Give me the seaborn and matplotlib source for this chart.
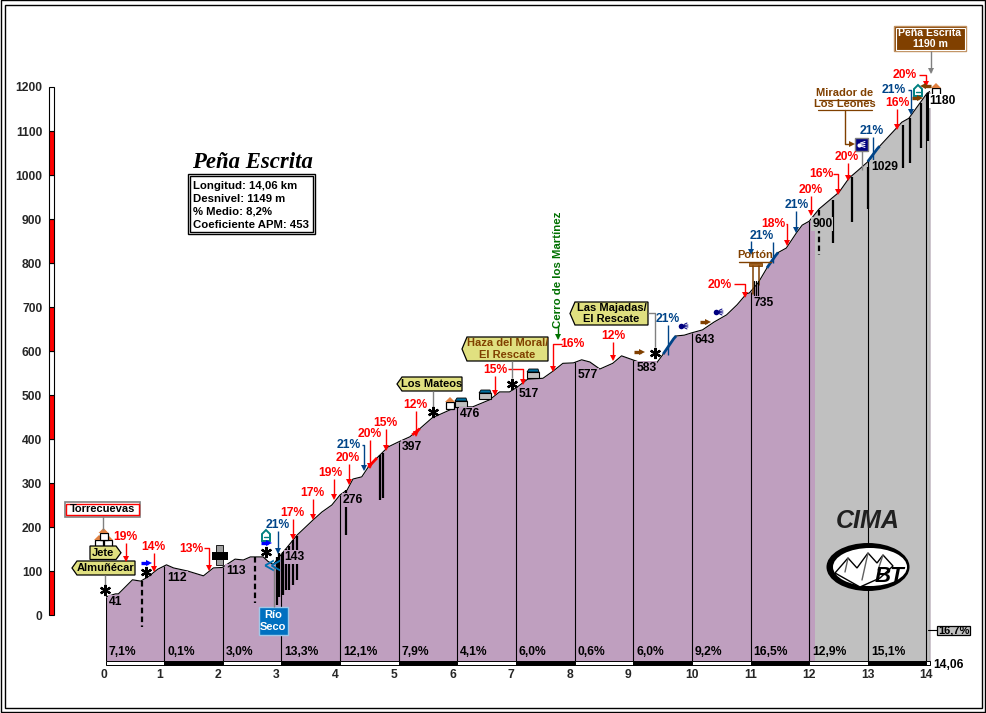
#!/usr/bin/env python3
"""Perfil de altimetria - Peña Escrita"""

import numpy as np
import matplotlib.pyplot as plt
from matplotlib.patches import Rectangle, Polygon, Ellipse
from matplotlib.transforms import ScaledTranslation
import seaborn as sns

sns.set_style("white")
plt.rcParams['font.family'] = ['Liberation Sans', 'DejaVu Sans']
plt.rcParams['font.weight'] = 'bold'

# Perfil
km = [0, 0.17, 0.22, 0.34, 0.46, 0.60, 0.73, 0.89, 1.04, 1.16, 1.40, 1.67, 1.84, 1.99,
      2.21, 2.35, 2.47, 2.69, 2.77, 2.86, 3.03, 3.27, 3.54, 3.69, 3.86, 4.0, 4.12, 4.22,
      4.37, 4.48, 4.63, 4.82, 4.99, 5.19, 5.33, 5.57, 5.99, 6.26, 6.55, 6.72, 6.89, 7.01,
      7.2, 7.46, 7.63, 7.80, 7.98, 8.12, 8.26, 8.43, 8.65, 8.80, 8.99, 9.14, 9.40, 9.5,
      9.72, 9.87, 9.99, 10.18, 10.38, 10.59, 10.77, 10.93, 10.98, 11.13, 11.29, 11.46,
      11.61, 11.78, 11.88, 12.0, 12.17, 12.51, 12.68, 12.82, 12.99, 13.17, 13.58, 13.70,
      14.01, 14.06]
elev = [41, 48, 48, 64, 80, 77, 87, 104, 114, 107, 100, 89, 107, 108,
        127, 125, 132, 132, 122, 115, 143, 182, 216, 234, 250, 273, 284, 309,
        314, 336, 357, 382, 393, 405, 420, 448, 473, 473, 489, 507, 507, 517,
        536, 538, 554, 572, 573, 580, 575, 559, 572, 589, 580, 573, 573, 591,
        634, 636, 641, 648, 666, 682, 705, 730, 732, 755, 791, 823,
        834, 868, 886, 895, 923, 961, 993, 1009, 1029, 1061, 1120, 1129,
        1186, 1190]

km_marks = list(range(15))
alt_ticks = list(range(0, 1300, 100))
km_heights = ["41", "112", "113", "143", "276", "397", "476", "517", "577", "583",
              "643", "735", "900", "1029", "1180"]
km_grades = ["7,1%", "0,1%", "3,0%", "13,3%", "12,1%", "7,9%", "4,1%", "6,0%", "0,6%",
             "6,0%", "9,2%", "16,5%", "12,9%", "15,1%"]
height_rows = [602, 578, 571, 557, 500, 447, 414, 394, 375, 368, 340, 303, 224, 167, 101]
info_lines = ["Longitud: 14,06 km", "Desnivel: 1149 m", "% Medio: 8,2%", "Coeficiente APM: 453"]

RED = '#FF0000'
BLUE = '#004488'
BROWN = '#804000'
YELLOW = '#E0E080'
PURPLE = '#BF9FBF'
GREY = '#C0C0C0'
FS = 8.7
FS_BOX = 8.0


def px_x(k):
    return 105.5 + 58.64 * k


def px_y(m):
    return 615 - 0.44 * m


fig = plt.figure(figsize=(9.86, 7.13), dpi=100, facecolor='white')
ax = fig.add_axes([105.5 / 986, (713 - 661.2) / 713, 824.5 / 986, 574.2 / 713])
ax.set_xlim(0, 14.06)
ax.set_ylim(-105.0, 1200)

# Relleno del perfil: morado y gris a partir del km 12,1
ax.fill_between(km, -105, elev, color=PURPLE, lw=0)
grey_fill = ax.fill_between(km, -105, elev, color=GREY, lw=0)
grey_fill.set_clip_path(Rectangle((12.1, -200), 3, 2000, transform=ax.transData))
sns.lineplot(x=km, y=elev, color='k', lw=0.8, ax=ax, errorbar=None, sort=False)

# Lineas de kilometro
ax.vlines(km_marks, -105, np.interp(km_marks, km, elev), color='k', lw=0.8)
ax.vlines(14.06, -105, 1190, color='k', lw=0.8)

# Tramos duros sobre el perfil
for start, end, col in [(4.48, 4.63, RED), (5.23, 5.36, RED), (9.51, 9.73, BLUE),
                        (11.28, 11.47, BLUE), (13.0, 13.2, BLUE)]:
    seg = np.linspace(start, end, 6)
    ax.plot(seg, np.interp(seg, km, elev), color=col, lw=2, solid_capstyle='butt')

# Franja de kilometros
strip_w = [1] * 14 + [0.06]
strip_c = ['white' if i % 2 == 0 else 'black' for i in range(15)]
ax.bar(km_marks, [-9] * 15, width=strip_w, bottom=-105, align='edge', color=strip_c,
       edgecolor='k', lw=0.7, clip_on=False)

ax.set_xticks(km_marks)
ax.set_yticks(alt_ticks)
ax.tick_params(axis='x', length=0, pad=5.6, labelsize=FS)
ax.tick_params(axis='y', length=0, pad=45.5, labelsize=FS)
sns.despine(ax=ax, left=True, bottom=True)
for i, lab in enumerate(ax.get_xticklabels()):
    shift = -1.5 / 72 if i == 0 else (0 if i >= 10 else -3.5 / 72)
    lab.set_transform(lab.get_transform() + ScaledTranslation(shift, 0, fig.dpi_scale_trans))

# Capa en pixeles para rotulos e iconos
ov = fig.add_axes([0, 0, 1, 1], facecolor='none')
ov.set_xlim(0, 986)
ov.set_ylim(713, 0)
ov.axis('off')


def txt(x, y, s, color='k', size=FS, ha='center', **kw):
    return ov.text(x, y, s, color=color, fontsize=size, ha=ha, va='center',
                   fontweight=kw.pop('fontweight', 'bold'), **kw)


def path(xs, ys, color='k', lw=1.0, head=True, marker='v', **kw):
    ov.plot(xs, ys, color=color, lw=lw, solid_capstyle='butt', **kw)
    if head:
        ov.plot(xs[-1], ys[-1] - 1, marker=marker, ms=4, color=color, mew=0)


def flag(x0, x1, y0, y1, lines, side='left', color='k'):
    mid = (y0 + y1) / 2
    tip = 5
    if side == 'left':
        pts = [(x0, mid), (x0 + tip, y0), (x1, y0), (x1, y1), (x0 + tip, y1)]
        cx = (x0 + tip + x1) / 2
    else:
        pts = [(x0, y0), (x1 - tip, y0), (x1, mid), (x1 - tip, y1), (x0, y1)]
        cx = (x0 + x1 - tip) / 2
    ov.add_patch(Polygon(pts, closed=True, fc=YELLOW, ec='k', lw=0.9))
    step = (y1 - y0) / len(lines)
    for i, line in enumerate(lines):
        txt(cx, y0 + step * (i + 0.5), line, color=color, size=FS_BOX)


def star(x, y):
    ov.plot(x, y, marker=(6, 2, 0), ms=8, color='k', mew=1.6)


def house(x, y, roof='#E08040'):
    ov.add_patch(Rectangle((x - 4, y - 1), 8, 7, fc='white', ec='k', lw=0.9))
    ov.add_patch(Polygon([(x - 5, y - 1), (x, y - 6), (x + 5, y - 1)], closed=True, fc=roof, lw=0))


def block(x, y):
    ov.add_patch(Rectangle((x - 6, y - 1), 12, 6, fc='#C0C0C0', ec='k', lw=0.8))
    ov.add_patch(Polygon([(x - 6, y - 1), (x - 4, y - 4), (x + 5, y - 4), (x + 6, y - 1)],
                         closed=True, fc='#0070A0', ec='k', lw=0.6))


def arrow(x, y, color, left=False):
    sign = -1 if left else 1
    ov.plot([x - 5 * sign, x + 2 * sign], [y, y], color=color, lw=2.4, solid_capstyle='butt')
    ov.plot(x + 3 * sign, y, marker='<' if left else '>', ms=4, color=color, mew=0)


def green_house(x, y):
    ov.add_patch(Polygon([(x - 4, y - 1), (x, y - 5), (x + 4, y - 1), (x + 4, y + 6), (x - 4, y + 6)],
                         closed=True, fc='white', ec='#008080', lw=1.4))
    ov.plot([x - 2, x + 2], [y + 2, y + 2], color='#008080', lw=1)


def fan(x, y):
    ov.plot(x - 3, y, marker='o', ms=4, color='#000080', mew=0)
    for dy, x1 in [(-3, 3), (-1, 4), (1, 4), (3, 3)]:
        ov.plot([x, x + x1], [y + dy * 0.5, y + dy], color='#000080', lw=0.7)


# Marco doble
for x0, y0, x1, y1 in [(1, 0, 985, 711.5), (4.5, 4.5, 981.5, 707.5)]:
    ov.add_patch(Rectangle((x0, y0), x1 - x0, y1 - y0, fill=False, ec='k', lw=1))

# Escala de altitud
for i, m in enumerate(alt_ticks[:-1]):
    ov.add_patch(Rectangle((49, px_y(m + 100)), 4.5, 44, fc=RED if i % 2 == 0 else 'white',
                           ec='k', lw=0.8))

# Segmentos negros de los tramos duros
steep = [(276.7, 557, 605), (279.3, 553, 597), (282.7, 552, 595), (286, 549, 590), (289, 546, 590),
         (292.7, 540, 585), (296.7, 536, 580), (346, 490, 535), (380, 455, 500), (383, 453, 498),
         (832.7, 200, 243), (851.7, 177, 222), (867.7, 167, 209), (902.7, 125, 168),
         (910, 118, 163), (921, 103, 148), (928, 93, 141)]
for x, y0, y1 in steep:
    ov.plot([x, x], [y0, y1], color='k', lw=1.6, solid_capstyle='butt')
for x, y0, y1 in [(141.7, 581, 627), (255, 557, 603), (819, 210, 255)]:
    ov.plot([x, x], [y0, y1], color='k', lw=1.6, ls=(0, (2.5, 1.5)))

# Cotas y pendientes por kilometro, con fondo para tapar los segmentos
height_bg = [PURPLE] * 12 + [GREY, GREY, 'white']
for i, (label, row, bg) in enumerate(zip(km_heights, height_rows, height_bg)):
    txt(px_x(i) + 3, row, label, ha='left',
        bbox=dict(fc=bg, ec='none', pad=0.6))
for i, label in enumerate(km_grades):
    txt(px_x(i) + 3, 652, label, ha='left')

# Rotulos de pendiente con su flecha
grades = [
    ("19%", RED, 125.5, 537, [125.5, 125.5], [543, 560]),
    ("14%", RED, 153.5, 547, [153.5, 153.5], [553, 570]),
    ("13%", RED, 191, 549, [204, 208.5, 208.5], [548, 548, 569]),
    ("21%", BLUE, 278, 525, [278, 278], [531, 552]),
    ("17%", RED, 292.5, 513, [292.5, 292.5], [519, 538]),
    ("17%", RED, 312.7, 493, [312.7, 312.7], [499, 518]),
    ("19%", RED, 330, 473, [334, 334], [479, 498]),
    ("20%", RED, 348, 458, [349, 349], [464, 483]),
    ("21%", BLUE, 349, 445, [362, 364, 364], [445, 445, 469]),
    ("20%", RED, 370, 434, [370, 370], [440, 467]),
    ("15%", RED, 385.7, 423, [385.7, 385.7], [429, 449]),
    ("12%", RED, 415.7, 405, [415.7, 415.7], [411, 435]),
    ("15%", RED, 495, 370, [495, 495], [376, 394]),
    ("", RED, 0, 0, [508, 522.7, 522.7], [369, 369, 383]),
    ("16%", RED, 572, 344, [562, 552.5, 552.5], [344, 344, 370]),
    ("12%", RED, 613, 336, [613, 613], [342, 359]),
    ("21%", BLUE, 668, 319, [668, 668], [325, 355]),
    ("20%", RED, 720, 285, [734, 745, 745], [284, 284, 296]),
    ("21%", BLUE, 762, 236, [750.7, 750.7], [241, 253]),
    ("", BLUE, 0, 0, [772.7, 772.7], [242, 263]),
    ("18%", RED, 773, 224, [786, 787, 787], [224, 224, 244]),
    ("21%", BLUE, 797, 205, [796, 796], [211, 231]),
    ("20%", RED, 811, 190, [811, 811], [196, 214]),
    ("16%", RED, 821, 174, [833, 837.5, 837.5], [174, 174, 193]),
    ("20%", RED, 847, 157, [847.5, 847.5], [163, 179]),
    ("21%", BLUE, 872, 131, [872.5, 872.5], [137, 162]),
    ("21%", BLUE, 894, 90, [908, 911, 911], [90, 90, 113]),
    ("16%", RED, 897, 103, [897, 897], [109, 128]),
    ("20%", RED, 905, 75, [919, 926, 926], [75, 75, 85]),
]
for label, col, x, y, xs, ys in grades:
    if label:
        txt(x, y, label, color=col)
    path(xs, ys, color=col, head=not (xs[0] == 772.7 or xs[0] == 668 or xs[0] == 872.5))

# Titulo y recuadro de datos
txt(252, 163, "Peña Escrita", size=16.4, family='Liberation Serif', style='italic')
ov.add_patch(Rectangle((187.5, 173.5), 127, 60, fill=False, ec='k', lw=1))
ov.add_patch(Rectangle((189.5, 175.5), 123, 56, fill=False, ec='k', lw=1))
for y, line in zip([186, 199, 212, 225], info_lines):
    txt(193, y, line, ha='left', size=8.2)

# Carteles del recorrido
ov.add_patch(Rectangle((64.5, 502), 75.5, 14.5, fc='white', ec='#808080', lw=1.2))
ov.add_patch(Rectangle((66, 503.5), 72.5, 11.5, fill=False, ec=RED, lw=1))
txt(102.5, 509, "Torrecuevas", size=FS_BOX)
path([102.5, 102.5], [516, 530], color='#808080', head=False)
house(99, 541)
house(108, 541)
house(103.5, 534)
flag(90, 121, 546, 559.5, ["Jete"], side='right')
flag(72, 135, 561, 575, ["Almuñécar"])
path([104.5, 104.5], [575, 585], color='#808080', head=False)
star(105, 590)
star(146, 572)
arrow(146, 563, '#0000FF')
star(266, 552)
arrow(266, 543, '#0000FF')
green_house(266, 535)

# Rio Seco
path([273.5, 273.5], [566, 607], color='#808080', head=False)
ov.plot(272, 565, marker='$\\ll$', ms=11, color='#0070B0', mew=0)
ov.add_patch(Rectangle((258.5, 607), 29, 28, fc='#0070C0', ec='#9FC8E8', lw=1))
txt(273, 615.5, "Río", color='white', size=FS_BOX)
txt(273, 627, "Seco", color='white', size=FS_BOX)

# Tunel del km 2
ov.add_patch(Rectangle((216, 545), 7, 20, fc='#A0A0A0', ec='k', lw=0.6))
ov.add_patch(Rectangle((212, 552), 16, 8, fc='k', lw=0))

flag(397, 462, 377, 391, ["Los Mateos"])
path([432.5, 432.5], [391, 408], color='#808080', head=False)
star(433, 412)
house(450, 403)
block(461, 402)
block(485, 394)
block(533, 373)

flag(462, 548, 337, 361, ["Haza del Moral/", "El Rescate"], color=BROWN)
path([511.5, 511.5], [361, 378], color='#808080', head=False)
star(512, 384)

txt(558, 270, "Cerro de los Martínez", color='#007000', rotation=90, size=8.2)
path([558, 558], [325, 338], color='#007000')

flag(570, 648, 302, 325, ["Las Majadas/", "El Rescate"])
path([648, 655, 655], [313, 313, 347], color='#808080', head=False)
star(655, 353)
arrow(639, 352, BROWN)
arrow(705, 322, BROWN)
arrow(917, 98, BROWN)
arrow(926, 86, BROWN, left=True)
fan(684, 326)
fan(719, 312)
green_house(918, 90)
house(936, 89)

# Porton
txt(755, 255, "Portón", color=BROWN, size=FS_BOX)
ov.plot([739, 771], [261.5, 261.5], color=BROWN, lw=1)
ov.add_patch(Rectangle((749, 263), 13, 3, fc='#A06020', ec=BROWN, lw=0.6))
ov.plot([752.5, 752.5], [266, 294], color=BROWN, lw=1.1)
ov.plot([758.5, 758.5], [266, 285], color=BROWN, lw=1.1)
for x in [753.5, 755.5, 757.5]:
    ov.plot([x, x], [281, 298], color='k', lw=0.9)

# Mirador
txt(845, 93, "Mirador de", color=BROWN, size=FS_BOX)
ov.plot([819, 871], [99.5, 99.5], color=BROWN, lw=0.9)
txt(845, 104, "Los Leones", color=BROWN, size=FS_BOX)
ov.plot([818, 872], [110, 110], color=BROWN, lw=0.9)
ov.plot([845, 845, 851], [110, 144, 144], color=BROWN, lw=1)
ov.plot(852, 144, marker='>', ms=4, color=BROWN, mew=0)
path([861.5, 861.5], [151, 170], color='#808080', head=False)
ov.add_patch(Rectangle((855, 138), 12.5, 13, fc='#000080', ec='#808080', lw=1))
ov.plot(858.5, 144.5, marker='o', ms=3, color='white', mew=0)
for dy in [-3, -1, 1, 3]:
    ov.plot([860.5, 865], [144.5 + dy * 0.5, 144.5 + dy], color='white', lw=0.7)

# Cima
ov.add_patch(Rectangle((894, 26), 72, 25, fc=BROWN, ec='#C09060', lw=1))
ov.add_patch(Rectangle((895.5, 27.5), 69, 22, fill=False, ec='white', lw=0.8))
txt(930, 33, "Peña Escrita", color='white', size=7.6)
txt(930, 44, "1190 m", color='white', size=7.6)
path([930.5, 930.5], [51, 72], color='#808080')

# Pendiente final y distancia total
ov.plot([928, 936.5], [630, 630], color='k', lw=0.8)
ov.add_patch(Rectangle((936.5, 625.5), 33.5, 9.5, fc=GREY, ec='k', lw=0.9))
txt(953.5, 630.5, "16,7%", size=FS_BOX)
txt(933, 665.5, "14,06", ha='left')

# Logo
txt(868, 521, "CIMA", size=18, style='italic', color='#202020')
ov.add_patch(Ellipse((868, 567), 83, 48, fc='k', lw=0))
ov.add_patch(Ellipse((870, 567), 74, 38, fc='white', lw=0))
ov.add_patch(Polygon([(835, 573), (848, 558), (857, 568), (868, 553), (877, 563), (883, 555),
                      (893, 566), (880, 578), (860, 587)], closed=True, fc='white', ec='k', lw=1))
for x0, y0, x1, y1 in [(848, 558, 845, 572), (868, 553, 862, 580), (883, 555, 878, 570)]:
    ov.plot([x0, x1], [y0, y1], color='#606060', lw=1)
txt(889, 577, "BT", size=16, style='italic')

fig.savefig('out.png', dpi=100, facecolor='white')
